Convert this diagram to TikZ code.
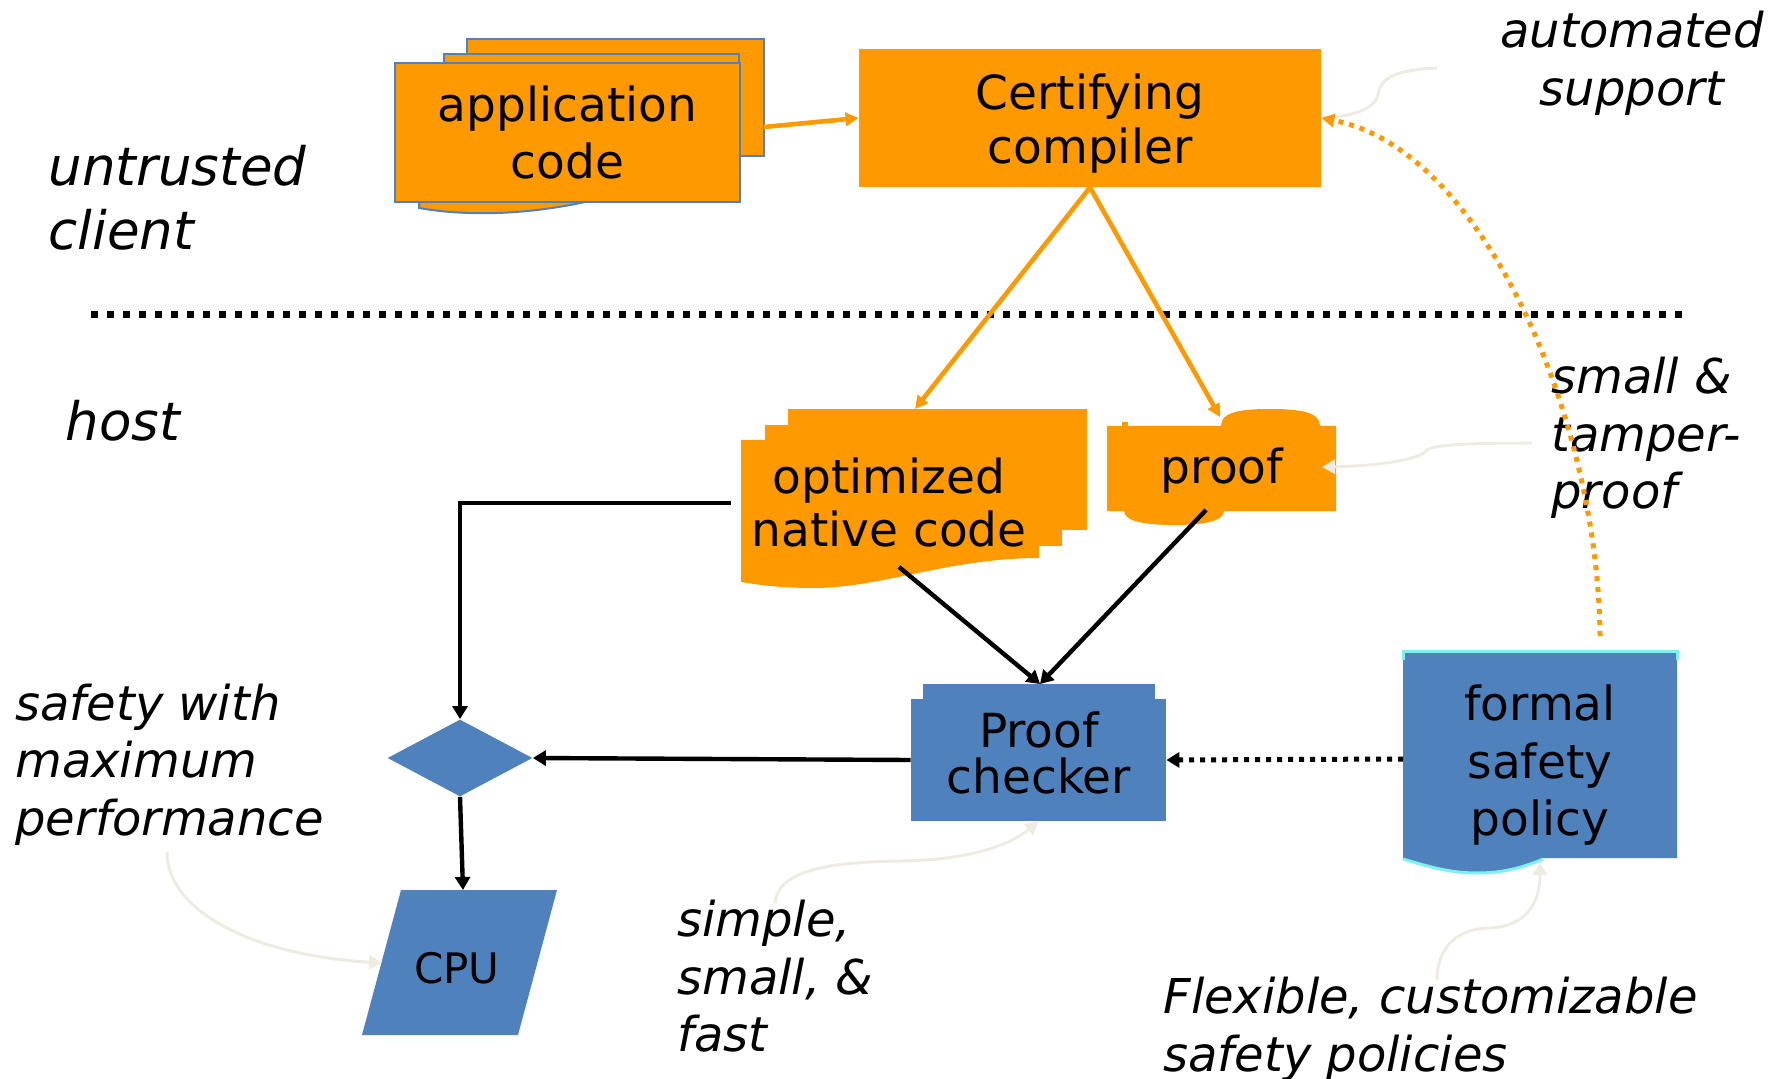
\documentclass[tikz,border=0pt]{standalone}
\usepackage{fontspec}
\setmainfont{DejaVu Sans}
\usetikzlibrary{arrows.meta,shapes.geometric}
\definecolor{orng}{HTML}{FF9900}
\definecolor{blu}{HTML}{4F81BD}
\definecolor{notegrey}{HTML}{EEECE1}
\definecolor{edgecyan}{HTML}{7FEFEF}
\begin{document}
\begin{tikzpicture}[x=0.5pt, y=-0.5pt,
  conn/.style={line width=2.2pt, -{Triangle[length=6.5pt,width=7.5pt]}},
  oconn/.style={draw=orng, line width=2.3pt, -{Triangle[length=6.5pt,width=6.5pt]}},
  note/.style={draw=notegrey, line width=1.5pt, -{Triangle[length=6.5pt,width=7pt]}},
  boxtext/.style={inner sep=0pt, align=center, font=\fontsize{23.5}{28.75}\selectfont},
  remark/.style={inner sep=0pt, align=left, anchor=west, font=\itshape\fontsize{24}{28.75}\selectfont},
  zone/.style={inner sep=0pt, align=left, anchor=west, font=\itshape\fontsize{26.5}{32}\selectfont},
  sheet/.style={fill=orng, draw=blu, line width=1pt},
]
\useasboundingbox (0,0) rectangle (1781,1079);

% ---- trust boundary ----
\draw[line width=3.5pt, dash pattern=on 3.5pt off 4.5pt] (91,315) -- (1684,315);

% ---- application code (stacked sheets) ----
\filldraw[sheet] (467,39) rectangle (764,156);
\filldraw[sheet] (444,54) rectangle (739,190);
\filldraw[sheet] (419,190) -- (419,208) .. controls (470,217) and (530,214) .. (585,202) -- (585,190) -- cycle;
\node[sheet, inner sep=0pt, minimum width=172.5pt, minimum height=69.5pt,
      align=center, font=\fontsize{23.5}{28.75}\selectfont] (app) at (567.5,132.5) {application\\code};
\coordinate (appout) at (764,127);

% ---- certifying compiler ----
\node[fill=orng, inner sep=0pt, minimum width=231pt, minimum height=69pt] (comp) at (1090,118) {};
\node[boxtext, font=\fontsize{23.5}{27}\selectfont] (comptxt) at (1090,123.5) {Certifying\\compiler};

% ---- optimized native code (stacked sheets) ----
\fill[orng] (788,409) rectangle (1087,530);
\fill[orng] (765,425) rectangle (1062,546);
\fill[orng] (741,440) -- (1039,440) -- (1039,558)
   .. controls (950,558) and (880,588) .. (814,588)
   .. controls (780,588) and (760,585) .. (741,582) -- cycle;
\node[boxtext, font=\fontsize{23.5}{26.5}\selectfont] (opt) at (889,502.5) {optimized\\native code};
\coordinate (optN) at (915,409);
\coordinate (optW) at (731,503);
\coordinate (optS) at (899,567);

% ---- proof ----
\fill[orng] (1107,426) -- (1221,426)
   .. controls (1221,412) and (1240,409) .. (1270,409)
   .. controls (1300,409) and (1320,412) .. (1320,426)
   -- (1336,426) -- (1336,511) -- (1224,511)
   .. controls (1224,522) and (1200,525) .. (1174,525)
   .. controls (1148,525) and (1124,522) .. (1124,511)
   -- (1107,511) -- cycle;
\fill[orng] (1122,426) -- (1122,422) -- (1128,422) -- (1128,426) -- cycle;
\node[boxtext] (prf) at (1222,470.5) {proof};
\coordinate (prfN) at (1220,417);
\coordinate (prfS) at (1206,510);
\coordinate (prfE) at (1322,467);

% ---- proof checker ----
\fill[blu] (923,684) rectangle (1155,700);
\node[fill=blu, inner sep=0pt, minimum width=127.5pt, minimum height=61pt] (chk) at (1038.5,760) {};
\node[boxtext, font=\fontsize{23.5}{23}\selectfont] (chktxt) at (1039,753) {Proof\\checker};
\coordinate (chkN) at (1040,684);

% ---- formal safety policy ----
\fill[blu] (1403,652) -- (1677,652) -- (1677,858) -- (1543,858)
   .. controls (1520,868) and (1500,872) .. (1477,872)
   .. controls (1450,872) and (1430,866) .. (1403,858) -- cycle;
\draw[edgecyan, line width=1.5pt] (1403,660) -- (1403,651) -- (1677,651) -- (1677,660);
\draw[edgecyan, line width=1.5pt] (1403,859)
   .. controls (1430,867) and (1450,873) .. (1477,873)
   .. controls (1500,873) and (1520,869) .. (1543,859);
\node[boxtext] (pol) at (1540,765.5) {formal\\safety\\policy};
\coordinate (polW) at (1403,759);
\coordinate (polN) at (1600,636);
\coordinate (polS) at (1540,862);

% ---- decision and CPU ----
\node[diamond, fill=blu, inner sep=0pt, minimum width=72.5pt, minimum height=38.5pt] (dec) at (460,758) {};
\fill[blu] (401,890) -- (557,890) -- (518,1035) -- (362,1035) -- cycle;
\node[inner sep=0pt, font=\fontsize{21}{25}\selectfont] (cpu) at (457,968) {CPU};
\coordinate (cputop) at (463,890);
\coordinate (cpuleft) at (382,963);

% ---- labels ----
\node[zone] (untr) at (48,197.5) {untrusted\\client};
\node[zone] (host) at (65,420.5) {host};
\node[remark, anchor=center, align=center] (auto) at (1632,63.5) {automated\\support};
\node[remark] (tamp) at (1551,438) {small \&\\tamper-\\proof};
\node[remark] (perf) at (15,764.5) {safety with\\maximum\\performance};
\node[remark] (fast) at (677,976.5) {simple,\\small, \&\\fast};
\node[remark] (flex) at (1163,1029) {Flexible, customizable\\safety policies};

% ---- callout curves ----
\coordinate (autoC) at (1437,68);
\coordinate (tampC) at (1532,443);
\coordinate (perfC) at (167,852);
\coordinate (fastC) at (775,903);
\coordinate (flexC) at (1437,980);
\draw[draw=notegrey, line width=1.5pt] (autoC) .. controls (1395,70) and (1380,78) .. (1378,95)
   .. controls (1374,110) and (1350,117) .. (comp.east);
\draw[note] (tampC) .. controls (1480,443) and (1430,444) .. (1426,451)
   .. controls (1420,459) and (1380,466) .. (prfE);
\draw[note] (perfC) .. controls (167,910) and (250,955) .. (cpuleft);
\draw[note] (fastC) .. controls (778,870) and (830,862) .. (900,861)
   .. controls (970,860) and (1010,845) .. (chk.south);
\draw[note] (flexC) .. controls (1437,945) and (1460,928) .. (1490,928)
   .. controls (1525,926) and (1540,905) .. (polS);

% ---- data flow ----
\draw[oconn] (appout) -- (comp.west);
\draw[oconn] (comp.south) -- (optN);
\draw[oconn] (comp.south) -- (prfN);
\draw[oconn, line width=2.5pt, dash pattern=on 2.5pt off 3pt] (polN) .. controls (1598,420) and (1485,150) .. (comp.east);

\draw[conn] (optW) -| (dec.north);
\draw[conn] (optS) -- (chkN);
\draw[conn] (prfS) -- (chkN);
\draw[conn] (chk.west) -- (dec.east);
\draw[conn] (dec.south) -- (cputop);
\draw[conn, line width=2.5pt, dash pattern=on 2.5pt off 3pt] (polW) -- (chk.east);
\end{tikzpicture}
\end{document}
